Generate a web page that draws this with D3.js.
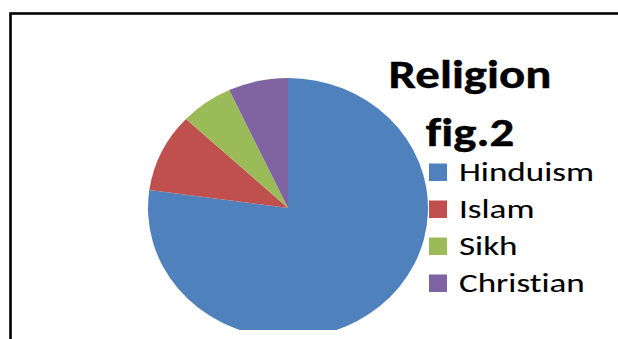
<!DOCTYPE html>
<html>
<head>
<meta charset="utf-8">
<script src="https://cdn.jsdelivr.net/npm/d3@7"></script>
<style>
  html, body { margin: 0; padding: 0; background: #fff; overflow: hidden; }
  svg { display: block; }
  text { font-variant-ligatures: none; }
</style>
</head>
<body>
<svg id="chart" width="618" height="339"></svg>
<script>
// religion shares (percent)
const religions = ['Hinduism', 'Islam', 'Sikh', 'Christian'];
const shares = [77.2, 9.8, 6.1, 6.9];
const colours = ['#4F81BD', '#C0504D', '#9BBB59', '#8064A2'];
const titleLines = ['Religion', 'fig.2'];

const svg = d3.select('#chart');
const fontFamily = 'Calibri, Carlito, Lato, sans-serif';

// chart border (right and bottom edges fall outside the picture)
svg.append('rect')
    .attr('x', 10.5)
    .attr('y', 13.5)
    .attr('width', 700)
    .attr('height', 400)
    .attr('fill', 'none')
    .attr('stroke', '#000')
    .attr('stroke-width', 2.6);

// plot area is cut off a little above the bottom
svg.append('clipPath')
    .attr('id', 'plotClip')
    .append('rect')
    .attr('x', 12).attr('y', 15)
    .attr('width', 600).attr('height', 315);

const radius = 140;
const squash = 130 / 140;   // the picture is a bit flattened

const pie = d3.pie().sort(null).value(d => d.value);
const arc = d3.arc().innerRadius(0).outerRadius(radius);
const data = religions.map((name, i) => ({name: name, value: shares[i], colour: colours[i]}));

svg.append('g')
    .attr('clip-path', 'url(#plotClip)')
    .append('g')
    .attr('transform', `translate(288,208) scale(1,${squash})`)
    .selectAll('path')
    .data(pie(data))
    .enter()
    .append('path')
    .attr('d', arc)
    .attr('fill', d => d.data.colour);

// title, two centred lines
const titleG = svg.append('g');
const titleText = titleG.selectAll('text')
    .data(titleLines)
    .enter()
    .append('text')
    .attr('x', 0)
    .attr('y', (d, i) => i === 0 ? 88 : 146)
    .attr('text-anchor', 'middle')
    .style('font-family', fontFamily)
    .style('font-weight', 'bold')
    .style('font-size', '40px')
    .style('fill', '#000')
    .style('stroke', '#000')
    .style('stroke-width', 0.4)
    .text(d => d);
let w = titleText.nodes()[0].getComputedTextLength();
let sx = 163 / w;
titleG.attr('transform', `translate(470,0) scale(${sx},1)`);

// legend
const rowStep = 37;
const legend = svg.append('g');
const rows = legend.selectAll('.legend-row')
    .data(data)
    .enter()
    .append('g')
    .attr('class', 'legend-row');

rows.append('rect')
    .attr('x', 429)
    .attr('y', (d, i) => 181 + i * rowStep - 17.5)
    .attr('width', 18)
    .attr('height', 17.5)
    .attr('fill', d => d.colour);

const labelG = legend.append('g');
const labels = labelG.selectAll('text')
    .data(data)
    .enter()
    .append('text')
    .attr('x', 0)
    .attr('y', (d, i) => 181 + i * rowStep)
    .style('font-family', fontFamily)
    .style('font-size', '27.5px')
    .style('fill', '#000')
    .style('stroke', '#000')
    .style('stroke-width', 0.1)
    .text(d => d.name);
w = labels.nodes()[0].getComputedTextLength();
sx = 135 / w;
labelG.attr('transform', `translate(459,0) scale(${sx},1)`);
</script>
</body>
</html>
